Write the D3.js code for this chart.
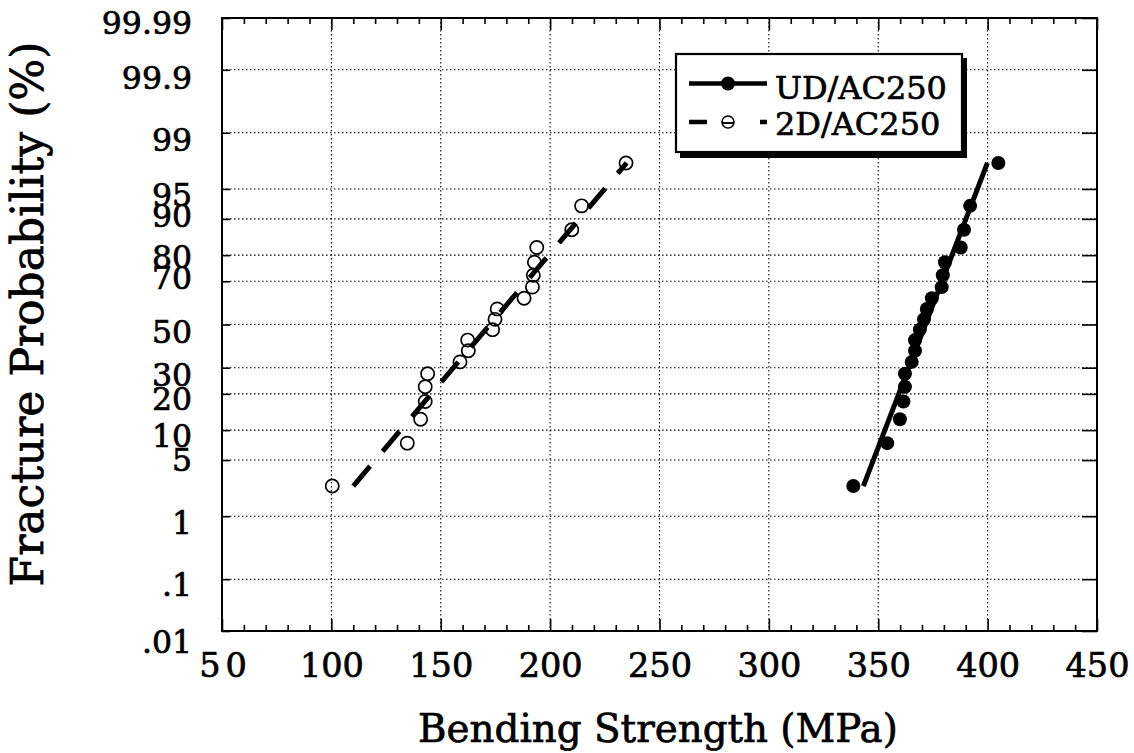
<!DOCTYPE html>
<html><head><meta charset="utf-8">
<script src="https://cdn.jsdelivr.net/npm/d3@7"></script>
<style>
body{margin:0;background:#fff}
svg text{font-family:"DejaVu Serif",serif;fill:#000;stroke:#000;stroke-width:0.7px}
</style>
</head><body>
<svg id="chart" width="1134" height="753"></svg>
<script>
// ---------------- data ----------------
const xTickValues = [50, 100, 150, 200, 250, 300, 350, 400, 450];
const yTickValues = [0.01, 0.1, 1, 5, 10, 20, 30, 50, 70, 80, 90, 95, 99, 99.9, 99.99];
const yTickLabels = [".01", ".1", "1", "5", "10", "20", "30", "50", "70", "80", "90", "95", "99", "99.9", "99.99"];
const seriesNames = ["UD/AC250", "2D/AC250"];
const probabilities = [2.5, 7.5, 12.5, 17.5, 22.5, 27.5, 32.5, 37.5, 42.5, 47.5, 52.5, 57.5, 62.5, 67.5, 72.5, 77.5, 82.5, 87.5, 92.5, 97.5];
const udStrength = [338.6, 354.1, 359.9, 361.5, 362.2, 362.2, 365.3, 366.8, 366.8, 369.0, 370.9, 372.2, 374.5, 379.0, 379.5, 380.5, 387.7, 389.2, 392.0, 404.9];
const tdStrength = [100.4, 134.7, 140.8, 142.9, 142.9, 144.0, 158.8, 162.6, 162.3, 173.7, 174.8, 175.8, 188.1, 191.9, 192.3, 192.8, 193.9, 209.9, 214.4, 234.7];
const udFitStrength = [343.2, 399.9];
const udFitProb = [2.5, 97.5];
const tdFitStrength = [110, 235];
const tdFitProb = [2.5, 97.5];

// ---------------- helpers ----------------
function probit(p){
  const a=[-3.969683028665376e+01,2.209460984245205e+02,-2.759285104469687e+02,1.383577518672690e+02,-3.066479806614716e+01,2.506628277459239e+00];
  const b=[-5.447609879822406e+01,1.615858368580409e+02,-1.556989798598866e+02,6.680131188771972e+01,-1.328068155288572e+01];
  const c=[-7.784894002430293e-03,-3.223964580411365e-01,-2.400758277161838e+00,-2.549732539343734e+00,4.374664141464968e+00,2.938163982698783e+00];
  const d=[7.784695709041462e-03,3.224671290700398e-01,2.445134137142996e+00,3.754408661907416e+00];
  const pl=0.02425, ph=1-pl; let q,r;
  if(p<pl){q=Math.sqrt(-2*Math.log(p));return (((((c[0]*q+c[1])*q+c[2])*q+c[3])*q+c[4])*q+c[5])/((((d[0]*q+d[1])*q+d[2])*q+d[3])*q+1);}
  if(p>ph){q=Math.sqrt(-2*Math.log(1-p));return -(((((c[0]*q+c[1])*q+c[2])*q+c[3])*q+c[4])*q+c[5])/((((d[0]*q+d[1])*q+d[2])*q+d[3])*q+1);}
  q=p-0.5;r=q*q;return (((((a[0]*r+a[1])*r+a[2])*r+a[3])*r+a[4])*r+a[5])*q/(((((b[0]*r+b[1])*r+b[2])*r+b[3])*r+b[4])*r+1);
}

// ---------------- layout ----------------
const L = 222, R = 1097, T = 18, B = 631;
const svg = d3.select("#chart");
const x = d3.scaleLinear().domain([50, 450]).range([L, R]);
const yz = d3.scaleLinear().domain([probit(0.0001), probit(0.9999)]).range([B, T]);
const y = p => yz(probit(p / 100));

// grid
const grid = svg.append("g").attr("stroke", "#000").attr("stroke-width", 1.1).attr("stroke-dasharray", "1.5,2.5");
grid.selectAll("line.v").data(xTickValues.slice(1, -1)).join("line")
  .attr("x1", d => x(d)).attr("x2", d => x(d)).attr("y1", T).attr("y2", B);
grid.selectAll("line.h").data(yTickValues.slice(1, -1)).join("line")
  .attr("y1", d => y(d)).attr("y2", d => y(d)).attr("x1", L).attr("x2", R);

// axes
const minorX = d3.range(60, 450, 10).filter(v => v % 50 !== 0);
function styleAxis(g){ g.select(".domain").remove(); g.selectAll(".tick line").attr("stroke","#000").attr("stroke-width",1.6); }

svg.append("g").attr("transform", `translate(0,${B})`)
  .call(d3.axisBottom(x).tickValues(xTickValues).tickSize(-12).tickPadding(22).tickFormat(d3.format("d")))
  .call(styleAxis)
  .call(g => g.selectAll("text").attr("font-size", 33.5).attr("font-family", "DejaVu Serif")
    .attr("letter-spacing", d => d === 50 ? 5 : 0).attr("dx", d => d === 50 ? 3 : 0));
svg.append("g").attr("transform", `translate(0,${B})`)
  .call(d3.axisBottom(x).tickValues(minorX).tickSize(-6).tickFormat(""))
  .call(styleAxis);
svg.append("g").attr("transform", `translate(0,${T})`)
  .call(d3.axisTop(x).tickValues(xTickValues).tickSize(-12).tickFormat(""))
  .call(styleAxis);
svg.append("g").attr("transform", `translate(0,${T})`)
  .call(d3.axisTop(x).tickValues(minorX).tickSize(-6).tickFormat(""))
  .call(styleAxis);

const yLabelShift = {"99.99":4.5,"99.9":7,"99":6,"95":5,"90":-4,"80":1,"70":-4,"50":6.5,"30":6,"20":4,"10":5,"5":-1,"1":6,".1":5,".01":10};
svg.append("g").attr("transform", `translate(${L},0)`)
  .call(d3.axisLeft(yz).tickValues(yTickValues.map(v => probit(v / 100))).tickSize(-8).tickPadding(30)
    .tickFormat((d, i) => yTickLabels[i]))
  .call(styleAxis)
  .call(g => g.selectAll("text").attr("font-size", 31.5).attr("font-family", "DejaVu Serif")
    .attr("y", (d, i) => yLabelShift[yTickLabels[i]] + 1.4));
svg.append("g").attr("transform", `translate(${R},0)`)
  .call(d3.axisRight(yz).tickValues(yTickValues.map(v => probit(v / 100))).tickSize(-15).tickFormat(""))
  .call(styleAxis);

// frame
svg.append("rect").attr("x", L).attr("y", T).attr("width", R - L).attr("height", B - T)
  .attr("fill", "none").attr("stroke", "#000").attr("stroke-width", 2);

// fit lines
const line = d3.line().x(d => x(d[0])).y(d => y(d[1]));
svg.append("path").datum(udFitStrength.map((s, i) => [s, udFitProb[i]]))
  .attr("d", line).attr("fill", "none").attr("stroke", "#000").attr("stroke-width", 5);
svg.append("path").datum(tdFitStrength.map((s, i) => [s, tdFitProb[i]]))
  .attr("d", line).attr("fill", "none").attr("stroke", "#000").attr("stroke-width", 5)
  .attr("stroke-dasharray", "26,19.5");

// points
svg.append("g").selectAll("circle").data(udStrength).join("circle")
  .attr("cx", d => x(d)).attr("cy", (d, i) => y(probabilities[i])).attr("r", 7).attr("fill", "#000");
svg.append("g").selectAll("circle").data(tdStrength).join("circle")
  .attr("cx", d => x(d)).attr("cy", (d, i) => y(probabilities[i])).attr("r", 6.6)
  .attr("fill", "none").attr("stroke", "#000").attr("stroke-width", 1.7);

// titles
function fitText(sel, target){
  const w = sel.node().getComputedTextLength();
  const fs = parseFloat(sel.attr("font-size"));
  sel.attr("font-size", fs * target / w);
}
const xt = svg.append("text").attr("x", 658).attr("y", 742).attr("text-anchor", "middle")
  .attr("font-size", 46).text("Bending Strength (MPa)");
fitText(xt, 480);
const yt = svg.append("text").attr("transform", "translate(43,314) rotate(-90)").attr("text-anchor", "middle")
  .attr("font-size", 46).text("Fracture Probability (%)");
fitText(yt, 545);

// legend
const lg = svg.append("g");
lg.append("rect").attr("x", 680).attr("y", 58).attr("width", 287).attr("height", 100).attr("fill", "#000");
lg.append("rect").attr("x", 676).attr("y", 54).attr("width", 286).attr("height", 98)
  .attr("fill", "#fff").attr("stroke", "#000").attr("stroke-width", 2.2);
lg.append("line").attr("x1", 689).attr("x2", 767).attr("y1", 83.5).attr("y2", 83.5)
  .attr("stroke", "#000").attr("stroke-width", 4.5);
lg.append("circle").attr("cx", 728).attr("cy", 83.5).attr("r", 7).attr("fill", "#000");
lg.append("line").attr("x1", 689).attr("x2", 767).attr("y1", 122).attr("y2", 122)
  .attr("stroke", "#000").attr("stroke-width", 4.5).attr("stroke-dasharray", "18,53,7");
lg.append("line").attr("x1", 722).attr("x2", 734).attr("y1", 123).attr("y2", 123)
  .attr("stroke", "#000").attr("stroke-width", 2);
lg.append("circle").attr("cx", 728).attr("cy", 122).attr("r", 6).attr("fill", "none")
  .attr("stroke", "#000").attr("stroke-width", 1.6);
const lt1 = lg.append("text").attr("x", 775).attr("y", 98.5).attr("font-size", 34).text(seriesNames[0]);
fitText(lt1, 172);
const lt2 = lg.append("text").attr("x", 775).attr("y", 134.5).attr("font-size", 34).text(seriesNames[1]);
lt2.attr("font-size", lt1.attr("font-size"));
</script>
</body></html>
